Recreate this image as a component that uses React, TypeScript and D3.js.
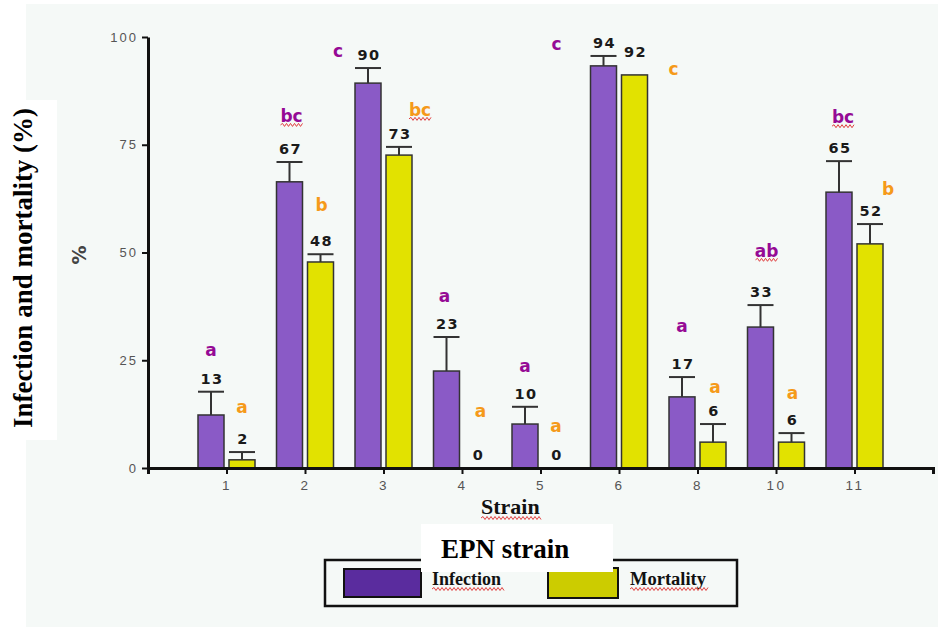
import React, { useEffect, useRef } from "react";
import * as d3 from "d3";

// strains on the x axis
const strains = ["1", "2", "3", "4", "5", "6", "8", "10", "11"];

// bar heights (mean %) and upper error (SE)
const infection = [12.3, 66.4, 89.3, 22.5, 10.2, 93.3, 16.5, 32.7, 64.0];
const infectionErr = [5.4, 4.6, 3.5, 7.9, 4.0, 2.3, 4.6, 5.1, 7.2];
const mortality = [1.9, 47.8, 72.6, 0, 0, 91.2, 6.0, 6.0, 52.0];
const mortalityErr = [1.8, 1.8, 1.9, 0, 0, 0, 4.2, 2.1, 4.6];

// printed value labels
const infectionLabels = ["13", "67", "90", "23", "10", "94", "17", "33", "65"];
const mortalityLabels = ["2", "48", "73", "0", "0", "92", "6", "6", "52"];

// significance letters and the % level they sit at
const infectionLetters = ["a", "bc", "c", "a", "a", "c", "a", "ab", "bc"];
const infectionLetterAt = [26, 80.3, 95.4, 38.5, 22.3, 97, 31.6, 49, 80];
const mortalityLetters = ["a", "b", "bc", "a", "a", "c", "a", "a", "b"];
const mortalityLetterAt = [12.8, 59.6, 81.7, 11.8, 8.4, 91.2, 17.4, 16, 63.3];

const yTicks = [0, 25, 50, 75, 100];

// layout nudges for letters (px from bar centre)
const infLetterDx = [0, 2, -30, -2, 0, -47, 0, 6, 4];
const morLetterDx = [0, 1, 21, 3, 0, 39, 2, 1, 18];

const W = 938;
const H = 627;
const barW = 26;
const gap = 2.5;

const PURPLE = "#8a5ac6";
const YELLOW = "#e2e200";
const LETTER_P = "#950a95";
const LETTER_O = "#f59a1a";

const wave = (x0: number, x1: number, y: number) => {
  let d = `M${x0},${y}`;
  let up = true;
  for (let x = x0 + 2; x <= x1; x += 2) {
    d += ` L${x},${y + (up ? -1.5 : 1.5)}`;
    up = !up;
  }
  return d;
};

export default function App() {
  const xAxisRef = useRef<SVGGElement>(null);
  const yAxisRef = useRef<SVGGElement>(null);

  const x = d3.scalePoint().domain(strains).range([148, 933]).padding(1);
  const y = d3.scaleLinear().domain([0, 100]).range([468, 37]);

  useEffect(() => {
    const yAxis = d3.select(yAxisRef.current);
    yAxis.selectAll("*").remove();
    yAxis.call(d3.axisLeft(y).tickValues(yTicks).tickSize(6).tickSizeOuter(0).tickPadding(4));
    yAxis.select(".domain").attr("stroke", "#111").attr("stroke-width", 3);
    yAxis.selectAll(".tick line").attr("stroke", "#111").attr("stroke-width", 2);
    yAxis
      .selectAll(".tick text")
      .attr("fill", "#555")
      .style("font-family", "'Liberation Sans', Arial, sans-serif")
      .style("font-size", "13px")
      .style("letter-spacing", "2px");

    const xAxis = d3.select(xAxisRef.current);
    xAxis.selectAll("*").remove();
    xAxis.call(d3.axisBottom(x).tickSize(6).tickSizeOuter(6).tickPadding(6));
    xAxis.select(".domain").attr("stroke", "#111").attr("stroke-width", 3);
    xAxis.selectAll(".tick line").attr("stroke", "#111").attr("stroke-width", 2);
    xAxis
      .selectAll(".tick text")
      .attr("fill", "#555")
      .style("font-family", "'Liberation Sans', Arial, sans-serif")
      .style("font-size", "13.5px")
      .style("letter-spacing", "2.5px");
  }, []);

  const bars = (
    values: number[],
    errs: number[],
    labels: string[],
    side: number,
    fill: string
  ) =>
    strains.map((s, i) => {
      const cx = (x(s) as number) + side * (gap + barW / 2);
      const top = y(values[i]);
      const errTop = y(values[i] + errs[i]);
      const nudge = side > 0 && s === "6" ? -10 : 0;
      return (
        <g key={s + side}>
          {values[i] > 0 && (
            <rect
              x={cx - barW / 2}
              y={top}
              width={barW}
              height={y(0) - top}
              fill={fill}
              stroke="#333"
              strokeWidth={1.5}
            />
          )}
          {errs[i] > 0 && (
            <g stroke="#333" strokeWidth={2}>
              <line x1={cx} x2={cx} y1={top} y2={errTop} />
              <line x1={cx - barW / 2} x2={cx + barW / 2} y1={errTop} y2={errTop} />
            </g>
          )}
          <text
            x={cx + 1}
            y={errTop - 8 + nudge}
            textAnchor="middle"
            fontFamily="'DejaVu Sans', sans-serif"
            fontWeight="bold"
            fontSize={14.5}
            letterSpacing={1.5}
            fill="#1a1a1a"
          >
            {labels[i]}
          </text>
        </g>
      );
    });

  const letters = (
    ls: string[],
    at: number[],
    dx: number[],
    side: number,
    color: string
  ) =>
    strains.map((s, i) => {
      const cx = (x(s) as number) + side * (gap + barW / 2) + dx[i];
      const yy = y(at[i]);
      const w = ls[i].length * 11;
      return (
        <g key={"l" + s + side}>
          <text
            x={cx}
            y={yy}
            textAnchor="middle"
            fontFamily="'DejaVu Sans', sans-serif"
            fontWeight="bold"
            fontSize={17}
            fill={color}
          >
            {ls[i]}
          </text>
          {ls[i].length > 1 && (
            <path d={wave(cx - w / 2, cx + w / 2, yy + 3)} fill="none" stroke="#e04040" strokeWidth={1} />
          )}
        </g>
      );
    });

  return (
    <svg
      width={W}
      height={H}
      style={{ position: "absolute", left: 0, top: 0, background: "#fff" }}
    >
      <rect x={26} y={4} width={W - 26} height={H - 4} fill="#f5f9f7" />

      {bars(infection, infectionErr, infectionLabels, -1, PURPLE)}
      {bars(mortality, mortalityErr, mortalityLabels, 1, YELLOW)}
      {letters(infectionLetters, infectionLetterAt, infLetterDx, -1, LETTER_P)}
      {letters(mortalityLetters, mortalityLetterAt, morLetterDx, 1, LETTER_O)}

      <g ref={yAxisRef} transform="translate(148,0)" />
      <g ref={xAxisRef} transform={`translate(0,${y(0)})`} />

      {/* inner axis titles */}
      <text
        transform="translate(86,255) rotate(-90)"
        textAnchor="middle"
        fontFamily="'DejaVu Sans', sans-serif"
        fontWeight="bold"
        fontSize={19}
        fill="#444"
      >
        %
      </text>
      <text
        x={481}
        y={514}
        fontFamily="'Liberation Serif', 'Times New Roman', serif"
        fontWeight="bold"
        fontSize={22}
        fill="#111"
      >
        Strain
      </text>
      <path d={wave(481, 541, 518)} fill="none" stroke="#e04040" strokeWidth={1} />

      {/* outer y title */}
      <rect x={0} y={100} width={57} height={340} fill="#fff" />
      <text
        transform="translate(32,268) rotate(-90)"
        textAnchor="middle"
        fontFamily="'Liberation Serif', 'Times New Roman', serif"
        fontWeight="bold"
        fontSize={27}
        fill="#000"
      >
        Infection and mortality (%)
      </text>

      {/* legend */}
      <rect x={325} y={560} width={412} height={46} fill="none" stroke="#111" strokeWidth={2.5} />
      <rect x={344} y={569} width={77} height={28} fill="#5a2c9e" stroke="#111" strokeWidth={2} />
      <text
        x={432}
        y={585}
        fontFamily="'Liberation Serif', 'Times New Roman', serif"
        fontWeight="bold"
        fontSize={18}
        fill="#111"
      >
        Infection
      </text>
      <path d={wave(432, 504, 589)} fill="none" stroke="#e04040" strokeWidth={1} />
      <rect x={548} y={568} width={70} height={30} fill="#cccc00" stroke="#111" strokeWidth={2} />
      <text
        x={630}
        y={585}
        fontFamily="'Liberation Serif', 'Times New Roman', serif"
        fontWeight="bold"
        fontSize={18.5}
        fill="#111"
      >
        Mortality
      </text>
      <path d={wave(630, 709, 589)} fill="none" stroke="#e04040" strokeWidth={1} />

      <rect x={421} y={524} width={192} height={48} fill="#fff" />
      <text
        x={441}
        y={558}
        fontFamily="'Liberation Serif', 'Times New Roman', serif"
        fontWeight="bold"
        fontSize={27}
        fill="#000"
      >
        EPN strain
      </text>
    </svg>
  );
}
